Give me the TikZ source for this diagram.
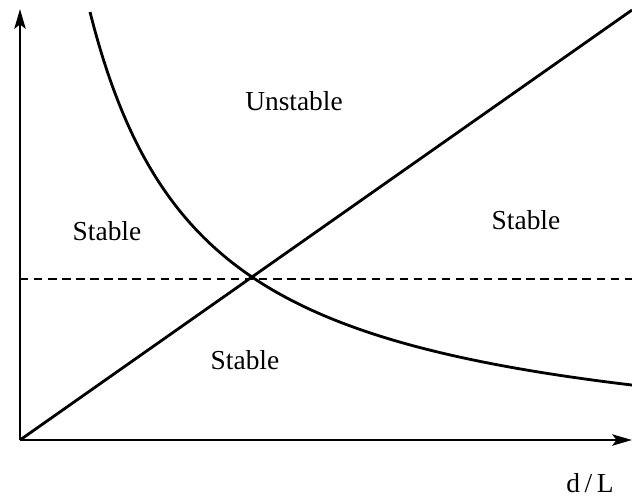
\documentclass[tikz,border=0pt]{standalone}
\usepackage{fontspec}
\setmainfont{Liberation Serif}
\usetikzlibrary{positioning,arrows.meta}

\begin{document}
\begin{tikzpicture}[
    x=0.025cm, y=0.025cm,
    axis/.style={line width=2pt, -{Stealth[length=14pt, width=8pt, inset=3pt]}},
    curve/.style={line width=2pt},
    level/.style={line width=1.7pt, dash pattern=on 6pt off 4pt},
    region/.style={font=\fontsize{19.5}{22}\selectfont, inner sep=0pt},
]
\useasboundingbox (-20, -62) rectangle (612, 440);

% Axes
\coordinate (o) at (0, 0);
\coordinate (ytop) at (0, 431);
\coordinate (xend) at (612, 0);
\draw[axis] (o) -- (ytop);
\draw[axis] (o) -- (xend);
\node[font=\fontsize{19.5}{22}\selectfont] (xlab) at (570, -43) {d\,/\,L};

% Boundaries
\coordinate (diagend) at (612, 430);
\coordinate (dashl) at (0, 161);
\coordinate (dashr) at (612, 161);
\draw[curve] (o) -- (diagend);
\draw[level] (dashl) -- (dashr);
\draw[curve] plot[domain=70:612, samples=120, smooth]
    (\x, {-23.5 + 514.68/((\x+44)/100)});

% Regions
\node[region] (unstable) at (274, 339) {Unstable};
\node[region] (stableL)  at (87, 209)  {Stable};
\node[region] (stableR)  at (506, 220) {Stable};
\node[region] (stableB)  at (225, 80)  {Stable};
\end{tikzpicture}
\end{document}
